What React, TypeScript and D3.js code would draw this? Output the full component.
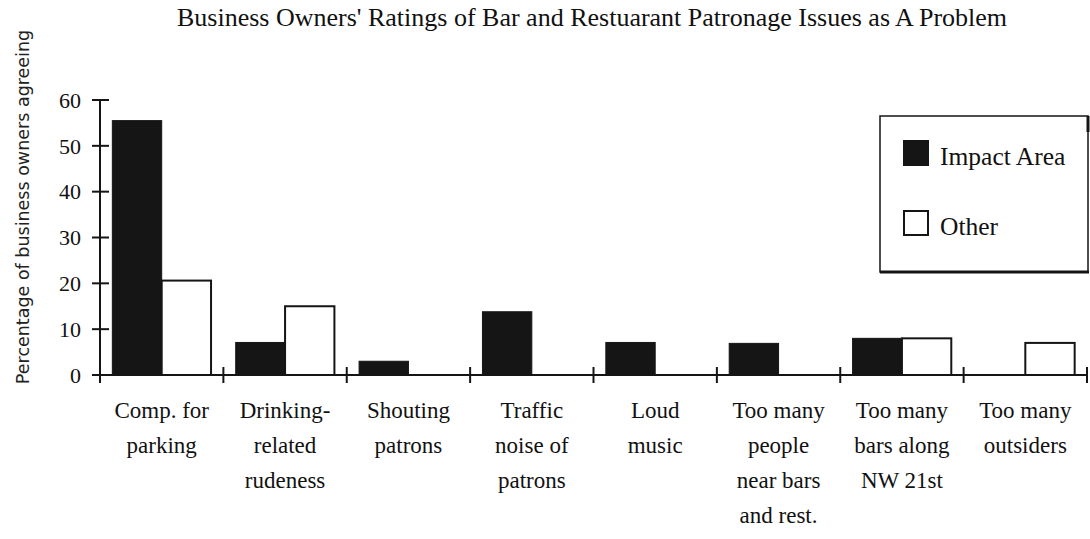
import React from "react";
import * as d3 from "d3";

const categories = [
  "Comp. for parking",
  "Drinking-related rudeness",
  "Shouting patrons",
  "Traffic noise of patrons",
  "Loud music",
  "Too many people near bars and rest.",
  "Too many bars along NW 21st",
  "Too many outsiders",
];
const categoryLines = [
  ["Comp. for", "parking"],
  ["Drinking-", "related", "rudeness"],
  ["Shouting", "patrons"],
  ["Traffic", "noise of", "patrons"],
  ["Loud", "music"],
  ["Too many", "people", "near bars", "and rest."],
  ["Too many", "bars along", "NW 21st"],
  ["Too many", "outsiders"],
];
const seriesNames = ["Impact Area", "Other"];
const impactArea = [55.5, 7.1, 3.0, 13.8, 7.1, 6.9, 8.0, 0];
const other = [20.6, 15.0, 0, 0, 0, 0, 8.0, 7.0];
const yTicks = [0, 10, 20, 30, 40, 50, 60];

const W = 1090;
const H = 539;
const left = 100;
const right = 1087;
const top = 100;
const bottom = 375;
const serif = "'Liberation Serif', 'Times New Roman', serif";
const sans = "'DejaVu Sans', sans-serif";

export default function App() {
  const x = d3.scaleBand<string>().domain(categories).range([left, right]).paddingInner(0.2).paddingOuter(0.1);
  const xs = d3.scaleBand<string>().domain(seriesNames).range([0, x.bandwidth()]);
  const y = d3.scaleLinear().domain([0, 60]).range([bottom, top]);
  const step = x.step();
  const boundaries = d3.range(categories.length + 1).map((i) => left + i * step);
  const series = [impactArea, other];

  return (
    <svg width={W} height={H} style={{ position: "absolute", left: 0, top: 0, background: "#fff" }}>
      <rect x={0} y={0} width={W} height={H} fill="#fff" />
      <text x={592} y={26} textAnchor="middle" fontFamily={serif} fontSize={26} fill="#111">
        Business Owners' Ratings of Bar and Restuarant Patronage Issues as A Problem
      </text>
      <text
        transform={`translate(29, 207) rotate(-90)`}
        textAnchor="middle"
        fontFamily={sans}
        fontSize={17.5}
        fill="#222"
      >
        Percentage of business owners agreeing
      </text>

      {/* bars */}
      {categories.map((c, i) =>
        series.map((s, k) => {
          const v = s[i];
          if (v <= 0) return null;
          const bx = (x(c) as number) + (xs(seriesNames[k]) as number);
          return (
            <rect
              key={c + k}
              x={bx}
              y={y(v)}
              width={xs.bandwidth()}
              height={bottom - y(v)}
              fill={k === 0 ? "#151515" : "#fff"}
              stroke="#151515"
              strokeWidth={k === 0 ? 1 : 2}
            />
          );
        })
      )}

      {/* y axis */}
      <line x1={left} x2={left} y1={top} y2={bottom + 8} stroke="#151515" strokeWidth={2} />
      {yTicks.map((t) => (
        <g key={t}>
          <line x1={left - 8} x2={left + 9} y1={y(t)} y2={y(t)} stroke="#151515" strokeWidth={2} />
          <text x={81} y={y(t)} dy="0.35em" textAnchor="end" fontFamily={serif} fontSize={22} fill="#111">
            {t}
          </text>
        </g>
      ))}

      {/* x axis */}
      <line x1={left} x2={right} y1={bottom} y2={bottom} stroke="#151515" strokeWidth={2} />
      {boundaries.map((b, i) => (
        <line key={i} x1={b} x2={b} y1={bottom - 8} y2={bottom + 8} stroke="#151515" strokeWidth={2} />
      ))}
      {categories.map((c, i) => (
        <text key={c} textAnchor="middle" fontFamily={serif} fontSize={23} fill="#111">
          {categoryLines[i].map((ln, j) => (
            <tspan key={j} x={(x(c) as number) + x.bandwidth() / 2} y={418 + j * 35}>
              {ln}
            </tspan>
          ))}
        </text>
      ))}

      {/* legend */}
      <rect x={880} y={116} width={208} height={156} fill="#fff" stroke="#151515" strokeWidth={1.5} />
      <line x1={880} x2={1089} y1={272} y2={272} stroke="#151515" strokeWidth={3} />
      <line x1={1088} x2={1088} y1={116} y2={132} stroke="#151515" strokeWidth={3} />
      <rect x={903} y={140} width={26} height={26} fill="#151515" />
      <text x={940} y={165} fontFamily={serif} fontSize={25.5} fill="#111">
        {seriesNames[0]}
      </text>
      <rect x={904} y={211} width={24} height={24} fill="#fff" stroke="#151515" strokeWidth={2} />
      <text x={940} y={235} fontFamily={serif} fontSize={25.5} fill="#111">
        {seriesNames[1]}
      </text>
    </svg>
  );
}
